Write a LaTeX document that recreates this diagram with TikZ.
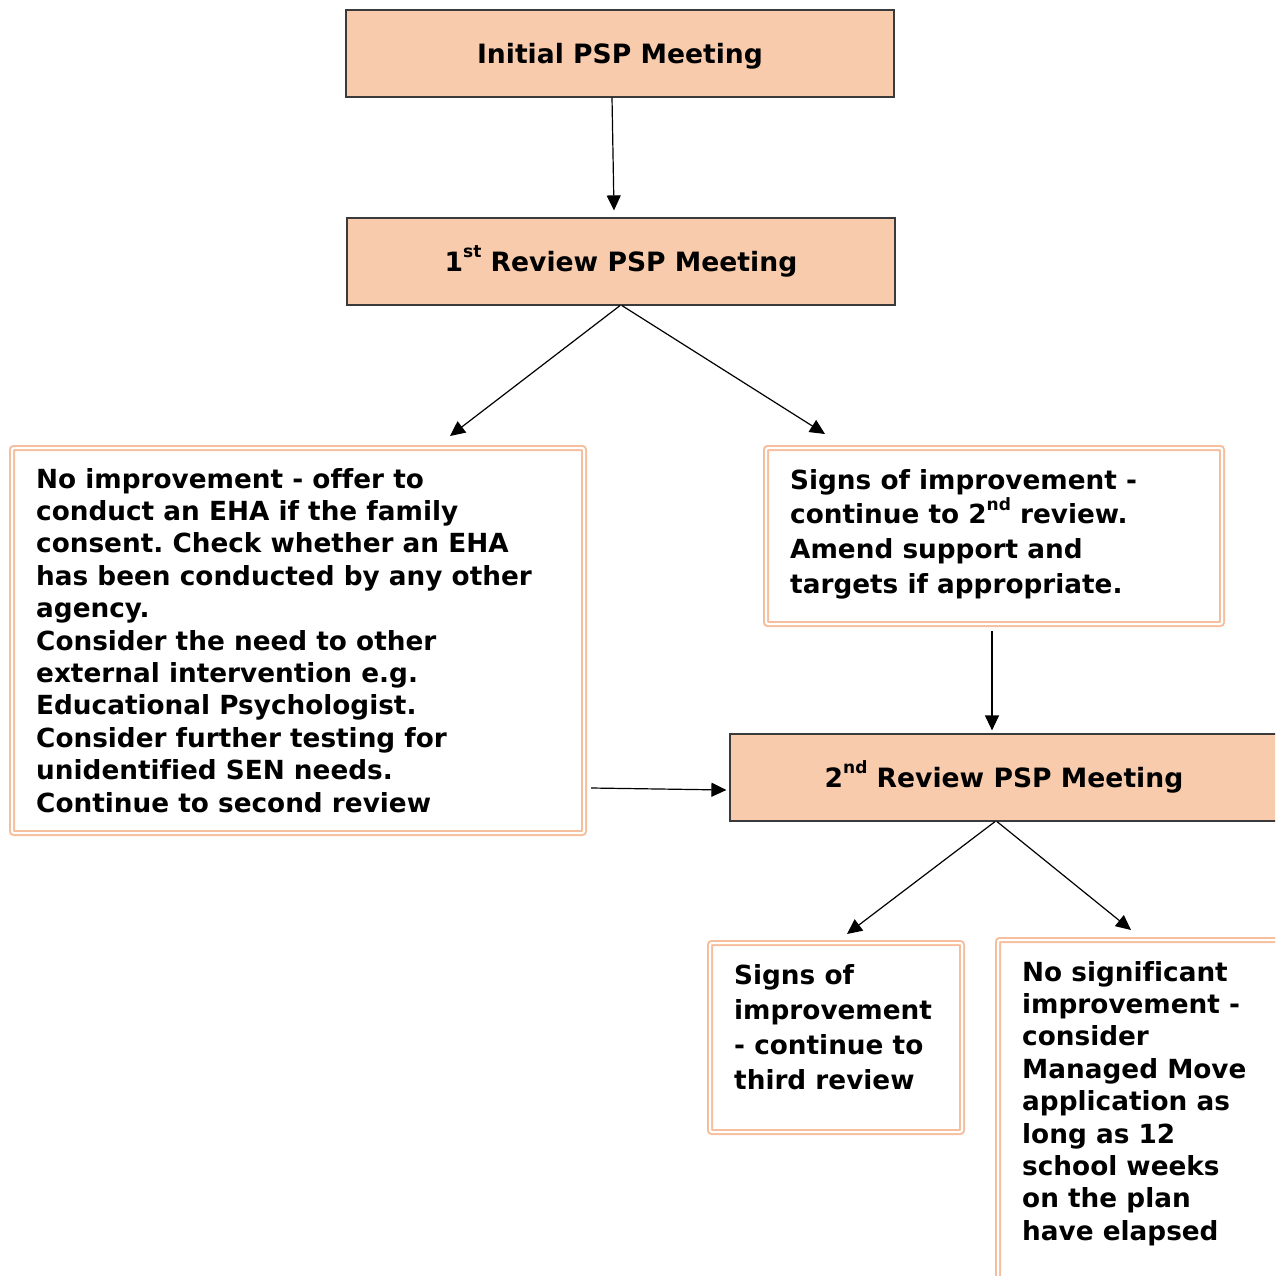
\documentclass[tikz,border=0pt]{standalone}
\usepackage{fontspec}
\setmainfont[Ligatures={NoCommon}]{DejaVu Sans}
\frenchspacing
\usetikzlibrary{arrows.meta}
\definecolor{peach}{HTML}{F8CBAD}
\definecolor{peachline}{HTML}{F5BE9C}
\definecolor{edge}{HTML}{3A3A3A}
\newcommand{\sups}[1]{\raisebox{0.5em}{\fontsize{17}{17}\selectfont #1}}
\begin{document}
\begin{tikzpicture}[x=1pt,y=-1pt,
  meet/.style={draw=edge, line width=1.2pt, fill=peach, rectangle, inner sep=0pt,
    minimum width=548pt, minimum height=87pt, text height=19.5pt, text depth=0pt,
    font=\fontsize{26.6}{31}\selectfont\bfseries},
  dblbox/.style={draw=peachline, line width=2pt, double=white, double distance=2pt,
    rectangle, rounded corners=2pt, inner sep=0pt},
  txt/.style={anchor=base west, inner sep=0pt},
  arr/.style={-{Triangle[length=15pt,width=14pt]}, line width=1.2pt, black}]
\useasboundingbox (0,0) rectangle (1275,1276);
\clip (0,0) rectangle (1275,1276);

\node[meet] (init) at (620,53.5) {Initial PSP Meeting};
\node[meet] (rev1) at (621,261.5) {1\sups{st} Review PSP Meeting};
\node[meet] (rev2) at (1004,777.5) {2\sups{nd} Review PSP Meeting};

\node[dblbox, minimum width=572pt, minimum height=385pt] (nol) at (298,640.5) {};
\node[dblbox, minimum width=456pt, minimum height=176pt] (soi) at (994,536) {};
\node[dblbox, minimum width=252pt, minimum height=189pt] (soi3) at (836,1037.5) {};
\node[dblbox, minimum width=292pt, minimum height=360pt] (nosig) at (1144,1120) {};

\node[txt] (nolt) at (36,488) {\parbox[t]{560pt}{\fontsize{26.3}{32.4}\selectfont\bfseries
No improvement - offer to\\
conduct an EHA if the family\\
consent. Check whether an EHA\\
has been conducted by any other\\
agency.\\
Consider the need to other\\
external intervention e.g.\\
Educational Psychologist.\\
Consider further testing for\\
unidentified SEN needs.\\
Continue to second review}};

\node[txt] (soit) at (790,489) {\parbox[t]{430pt}{\fontsize{26.3}{34.7}\selectfont\bfseries
Signs of improvement -\\
continue to 2\sups{nd} review.\\
Amend support and\\
targets if appropriate.}};

\node[txt] (soi3t) at (734,984) {\parbox[t]{230pt}{\fontsize{26.3}{35}\selectfont\bfseries
Signs of\\
improvement\\
- continue to\\
third review}};

\node[txt] (nosigt) at (1022,981) {\parbox[t]{250pt}{\fontsize{26.3}{32.4}\selectfont\bfseries
No significant\\
improvement -\\
consider\\
Managed Move\\
application as\\
long as 12\\
school weeks\\
on the plan\\
have elapsed}};

\draw[arr] ([xshift=-8pt]init.south) -- ([xshift=-7pt,yshift=7pt]rev1.north);
\draw[arr] ([xshift=-1pt]rev1.south) -- ([xshift=152pt,yshift=11pt]nol.north);
\draw[arr] ([xshift=1pt]rev1.south) -- ([xshift=-169pt,yshift=13pt]soi.north);
\draw[arr] ([xshift=-2pt,yshift=-6pt]soi.south) -- ([xshift=-12pt,yshift=3pt]rev2.north);
\draw[arr] ([xshift=6pt,yshift=-147.5pt]nol.east) -- ([xshift=-3pt,yshift=-12.5pt]rev2.west);
\draw[arr] ([xshift=-9pt]rev2.south) -- ([xshift=11pt,yshift=8pt]soi3.north);
\draw[arr] ([xshift=-7pt]rev2.south) -- ([xshift=-13pt,yshift=9pt]nosig.north);
\end{tikzpicture}
\end{document}
